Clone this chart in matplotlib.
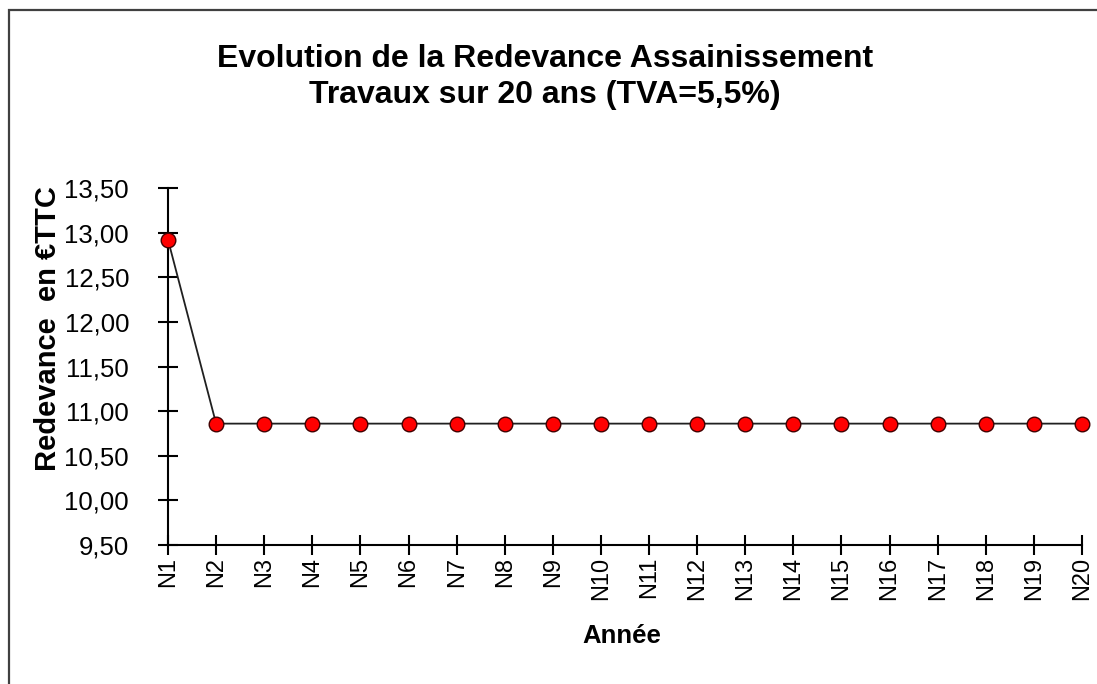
import matplotlib
matplotlib.use('Agg')
import matplotlib.pyplot as plt
from matplotlib.patches import Rectangle
from matplotlib.ticker import FuncFormatter

plt.rcParams['font.family'] = ['Liberation Sans', 'DejaVu Sans']

# data
years = ['N%d' % i for i in range(1, 21)]
redevance = [12.92] + [10.86] * 19
yticks = [9.5, 10.0, 10.5, 11.0, 11.5, 12.0, 12.5, 13.0, 13.5]

W, H = 1097, 684
fig = plt.figure(figsize=(W / 100, H / 100), dpi=100)

# frame around the chart area (only top and left are visible)
fig.patches.append(Rectangle((8.5 / W, -0.1), 1.2, 1 - 10.5 / H + 0.1,
                             transform=fig.transFigure, fill=False,
                             edgecolor='#404040', linewidth=1.6))

ax = fig.add_axes([168 / W, 1 - 545 / H, (1082 - 168) / W, (545 - 188) / H])
x = list(range(len(years)))
ax.plot(x, redevance, color='#202020', linewidth=1.3, marker='o',
        markersize=10.5, markerfacecolor='#ff0000', markeredgecolor='#400000',
        markeredgewidth=1.0, clip_on=False, zorder=3)

ax.set_xlim(0, len(years) - 1)
ax.set_ylim(9.5, 13.5)
ax.set_xticks(x)
ax.set_xticklabels(years, rotation=90)
ax.set_yticks(yticks)
ax.yaxis.set_major_formatter(FuncFormatter(lambda v, p: ('%.2f' % v).replace('.', ',')))

for s in ['top', 'right']:
    ax.spines[s].set_visible(False)
for s in ['left', 'bottom']:
    ax.spines[s].set_linewidth(1.5)
    ax.spines[s].set_color('black')

ax.tick_params(axis='y', direction='inout', length=14, width=1.5, pad=21, labelsize=18.5)
ax.tick_params(axis='x', direction='inout', length=14, width=1.5, pad=1.5, labelsize=17)

fig.text(48 / W, 1 - 329 / H, 'Redevance  en €TTC', rotation=90, ha='center',
         va='center', fontsize=21, fontweight='bold')
fig.text(622 / W, 1 - 636 / H, 'Année', ha='center', va='center',
         fontsize=18.5, fontweight='bold')
fig.text(545 / W, 1 - 77 / H, 'Evolution de la Redevance Assainissement\nTravaux sur 20 ans (TVA=5,5%)',
         ha='center', va='center', fontsize=23, fontweight='bold', linespacing=1.3)

fig.savefig('out.png', dpi=100)
